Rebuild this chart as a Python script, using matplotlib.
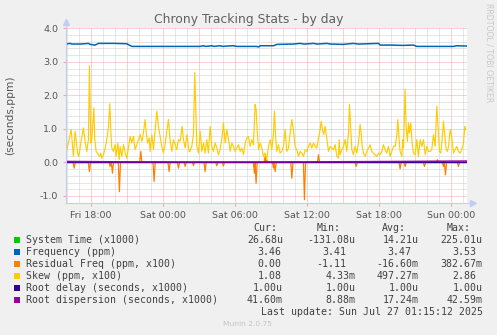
#!/usr/bin/env python3
"""
plot.py - munin style "Chrony Tracking Stats - by day" graph, redrawn with matplotlib.
Saves out.png (497x335).
"""

import numpy as np
import matplotlib
matplotlib.use("Agg")
import matplotlib.pyplot as plt
from matplotlib.patches import Rectangle

W, H = 497, 335

# time axis is hours since Fri 00:00
X_START, X_END = 15.94, 49.38
TICK_HOURS = [18, 24, 30, 36, 42, 48]
TICK_LABELS = ["Fri 18:00", "Sat 00:00", "Sat 06:00", "Sat 12:00", "Sat 18:00", "Sun 00:00"]

# Frequency (ppm)
freq_t = [15.94, 16.28, 16.45, 17.12, 17.81, 17.95, 18.37, 18.64, 20.0, 21.01, 21.42,
          27.12, 27.39, 27.6, 28.09, 28.3, 28.78, 29.0, 29.34, 29.89, 30.2, 31.84,
          31.98, 32.12, 33.23, 33.51, 34.89, 35.45, 35.8, 36.56, 36.9, 37.67, 38.0,
          39.0, 39.89, 40.3, 41.98, 42.12, 43.0, 44.0, 44.89, 45.17, 48.23, 48.51, 49.38]
freq_v = [3.53, 3.55, 3.53, 3.53, 3.55, 3.52, 3.50, 3.55, 3.55, 3.54, 3.46,
          3.46, 3.48, 3.46, 3.48, 3.46, 3.48, 3.46, 3.47, 3.48, 3.46, 3.46,
          3.44, 3.48, 3.48, 3.52, 3.53, 3.55, 3.53, 3.55, 3.53, 3.55, 3.53,
          3.52, 3.55, 3.53, 3.55, 3.50, 3.50, 3.49, 3.50, 3.46, 3.46, 3.48, 3.47]

# Skew (ppm, x100)
skew_t = [15.96, 16.37, 16.56, 16.70, 16.89, 16.98, 17.06, 17.17, 17.39, 17.53, 17.67,
          17.81, 17.89, 18.01, 18.09, 18.26, 18.34, 18.45, 18.56, 18.73, 18.84, 18.92,
          19.06, 19.20, 19.34, 19.48, 19.59, 19.67, 19.76, 19.89, 20.03, 20.12, 20.26,
          20.37, 20.45, 20.59, 20.73, 20.87, 21.01, 21.14, 21.28, 21.42, 21.56, 21.70,
          21.84, 21.98, 22.12, 22.26, 22.39, 22.53, 22.62, 22.73, 22.87, 22.95, 23.09,
          23.23, 23.37, 23.51, 23.64, 23.78, 23.92, 24.06, 24.20, 24.34, 24.48, 24.62,
          24.76, 24.89, 25.03, 25.17, 25.31, 25.45, 25.62, 25.73, 25.87, 26.01, 26.20,
          26.28, 26.42, 26.56, 26.67, 26.84,
          26.98, 27.12, 27.26, 27.39, 27.53, 27.67, 27.81, 27.95, 28.09, 28.23, 28.37,
          28.51, 28.64, 28.78, 28.92, 29.06, 29.20, 29.34, 29.48, 29.62, 29.76, 29.89,
          30.03, 30.17, 30.31, 30.45, 30.59, 30.73, 30.87, 31.01, 31.14, 31.28, 31.42,
          31.56, 31.70, 31.78, 31.87, 31.98, 32.12, 32.26, 32.39, 32.53, 32.67, 32.81,
          32.95, 33.09, 33.23, 33.31, 33.42, 33.51, 33.64, 33.78, 33.92, 34.06, 34.20,
          34.34, 34.48, 34.62, 34.76, 34.89, 35.03, 35.17, 35.31, 35.45, 35.59, 35.73,
          35.87, 36.01, 36.14, 36.28, 36.42, 36.56, 36.70, 36.84, 36.98, 37.12, 37.20,
          37.31, 37.42, 37.53, 37.67, 37.81, 37.95,
          38.09, 38.23, 38.37, 38.51, 38.64, 38.70, 38.78, 38.92, 39.06, 39.20, 39.34,
          39.48, 39.56, 39.67, 39.76, 39.89, 40.03, 40.17, 40.31, 40.45, 40.53, 40.62,
          40.73, 40.87, 41.01, 41.14, 41.28, 41.42, 41.56, 41.70, 41.84, 41.98, 42.12,
          42.26, 42.39, 42.53, 42.67, 42.81, 42.95, 43.09, 43.23, 43.37, 43.51, 43.59,
          43.70, 43.78, 43.92, 44.01, 44.06, 44.20, 44.28, 44.39, 44.48, 44.56, 44.67,
          44.78, 44.89, 45.03, 45.17, 45.31, 45.45, 45.59, 45.73, 45.87, 46.01, 46.14,
          46.28, 46.42, 46.56, 46.70, 46.84, 46.95, 47.06, 47.17, 47.28, 47.39, 47.51,
          47.62, 47.73, 47.84, 47.95, 48.09, 48.23, 48.37, 48.51, 48.64, 48.78, 48.92,
          49.06, 49.17, 49.25]
skew_v = [0.28, 0.98, 0.18, 0.93, 0.33, 0.18, 0.28, 0.58, 1.03, 0.63, 0.33,
          0.68, 2.88, 0.58, 0.68, 1.63, 0.68, 0.33, 0.28, 0.18, 0.28, 0.13,
          0.23, 0.43, 0.68, 1.08, 1.75, 0.98, 0.43, 0.33, 0.53, 0.18, 0.58,
          0.08, 0.48, 0.18, 0.53, 0.28, 0.13, 0.43, 0.78, 0.58, 0.78, 0.38,
          0.53, 0.68, 0.83, 0.63, 0.88, 1.28, 0.93, 0.58, 0.73, 0.33, 0.83,
          0.38, 0.98, 1.53, 1.08, 0.78, 0.48, 0.28, 0.53, 0.93, 1.28, 0.63,
          0.33, 0.68, 0.53, 0.38, 0.68, 0.63, 1.08, 0.68, 0.43, 0.83, 0.33,
          0.33, 0.48, 0.83, 2.68, 0.48,
          0.28, 0.93, 0.33, 0.58, 0.28, 0.68, 0.28, 1.08, 0.48, 0.33, 0.58,
          0.43, 0.23, 0.38, 0.68, 1.18, 0.58, 0.98, 0.68, 0.33, 0.58, 0.48,
          0.33, 0.43, 0.53, 0.33, 0.43, 0.23, 0.58, 0.73, 0.78, 0.48, 0.68,
          0.53, 1.73, 1.58, 0.98, 0.38, 0.58, 0.43, 0.18, 0.28, 0.08, 0.48,
          0.68, 0.38, 0.88, 1.53, 0.68, 0.33, 0.53, 0.28, 0.33, 0.48, 0.98,
          0.33, 0.43, 0.88, 1.28, 0.98, 0.48, 0.38, 0.18, 0.33, 0.28, 0.18,
          0.38, 0.33, 0.48, 0.58, 0.43, 0.58, 0.48, 0.43, 0.73, 0.98, 1.23,
          0.98, 0.83, 1.08, 0.73, 0.33, 0.48,
          0.43, 0.38, 0.53, 0.18, 0.13, 0.68, 0.23, 0.38, 0.48, 0.68, 0.33,
          0.88, 1.73, 0.98, 0.38, 0.23, 0.48, 0.28, 0.58, 1.13, 0.88, 0.48,
          0.28, 0.18, 0.33, 0.43, 0.53, 0.33, 0.28, 0.23, 0.18, 0.28, 0.23,
          0.33, 0.53, 0.38, 0.28, 0.48, 0.18, 0.33, 0.48, 0.48, 0.83, 1.28,
          0.68, 0.33, 0.18, 0.68, 0.43, 2.18, 1.08, 0.63, 1.18, 0.88, 1.18,
          0.58, 0.28, 0.23, 0.68, 0.18, 0.68, 0.48, 0.68, 0.23, 0.48, 0.33,
          0.33, 0.38, 0.83, 0.48, 1.68, 0.98, 0.33, 0.28, 0.68, 1.23, 0.78,
          0.38, 0.33, 0.53, 0.98, 0.73, 0.28, 0.38, 0.48, 0.33, 0.28, 0.38,
          0.58, 1.08, 0.98]

# Residual Freq (ppm, x100): spikes away from zero
resid_t = [16.62, 17.89, 19.62, 19.81, 20.39, 22.17, 23.28, 24.53, 25.31, 25.87, 26.56,
           27.53, 28.51, 29.06, 31.64, 31.78, 32.53, 32.67, 33.23, 33.37, 34.76, 35.81,
           36.98, 40.12, 43.78, 44.20, 45.81, 46.89, 47.39, 47.56, 48.64]
resid_v = [-0.17, -0.27, -0.12, -0.32, -0.87, 0.33, -0.57, -0.27, -0.17, -0.12, -0.09,
           -0.27, -0.10, -0.10, -0.32, -0.62, 0.18, 0.08, -0.17, -0.27, -0.47, -1.11,
           0.23, -0.12, -0.19, -0.12, -0.12, 0.08, -0.12, -0.37, -0.12]

# Root dispersion (seconds, x1000)
disp_t = [15.94, 20.0, 26.0, 32.0, 38.0, 44.0, 49.38]
disp_v = [0.030, 0.020, 0.015, 0.015, 0.020, 0.030, 0.042]

# Root delay / System time (both ~0)
delay_v = 0.000001
systime_v = 0.000014

LEGEND_NAMES = ["System Time (x1000)", "Frequency (ppm)", "Residual Freq (ppm, x100)",
                "Skew (ppm, x100)", "Root delay (seconds, x1000)",
                "Root dispersion (seconds, x1000)"]
LEGEND_COLORS = ["#00CC00", "#0066B3", "#FF8000", "#FFCC00", "#330099", "#990099"]
CUR = ["26.68u", "3.46", "0.00", "1.08", "1.00u", "41.60m"]
MIN = ["-131.08u", "3.41", "-1.11", "4.33m", "1.00u", "8.88m"]
AVG = ["14.21u", "3.47", "-16.60m", "497.27m", "1.00u", "17.24m"]
MAX = ["225.01u", "3.53", "382.67m", "2.86", "1.00u", "42.59m"]

TXT = "#555555"
MAJ = "#EFA8A8"
MIN_GRID = "#D0D0D0"
AXIS = "#C4CCF4"


def fx(px):
    return px / W


def fy(py):
    return 1 - py / H


def spike_series(t, v, half=0.09):
    xs, ys = [X_START], [0.0]
    for ti, vi in zip(t, v):
        xs += [ti - half, ti, ti + half]
        ys += [0.0, vi, 0.0]
    xs.append(X_END)
    ys.append(0.0)
    return xs, ys


def main():
    fig = plt.figure(figsize=(W / 100, H / 100), dpi=100, facecolor="#F0F0F0")
    left, right, top, bottom = 66, 467.3, 28.3, 202.7
    ax = fig.add_axes([fx(left), fy(bottom), (right - left) / W, (bottom - top) / H])
    ax.set_facecolor("white")
    ax.set_xlim(X_START, X_END)
    ax.set_ylim(-1.2, 4.0)

    # grid
    dots = (0, (1, 1))
    for h in np.arange(16, 50, 1):
        c = MAJ if h % 3 == 0 else MIN_GRID
        ax.axvline(h, color=c, lw=0.72, ls=dots, zorder=0)
    for y in np.arange(-1.2, 4.01, 0.2):
        yr = round(y, 1)
        if yr <= -1.2:
            continue
        c = MAJ if abs(yr - round(yr)) < 1e-6 else MIN_GRID
        ax.axhline(yr, color=c, lw=0.72, ls=dots, zorder=0)

    # series, munin draw order
    ax.plot([X_START, X_END], [systime_v, systime_v], color=LEGEND_COLORS[0], lw=0.8, zorder=2)
    ax.plot(freq_t, freq_v, color=LEGEND_COLORS[1], lw=1.1, zorder=3)
    rx, ry = spike_series(resid_t, resid_v)
    ax.plot(rx, ry, color=LEGEND_COLORS[2], lw=0.9, zorder=4)
    ax.plot(skew_t, skew_v, color=LEGEND_COLORS[3], lw=0.85, zorder=5)
    ax.plot([X_START, X_END], [delay_v, delay_v], color=LEGEND_COLORS[4], lw=1.0, zorder=6)
    ax.plot(disp_t, disp_v, color=LEGEND_COLORS[5], lw=1.1, zorder=7)

    for s in ax.spines.values():
        s.set_visible(False)

    # axes with arrows
    ax.plot([0, 0], [0, 1.035], transform=ax.transAxes, color=AXIS, lw=0.8, clip_on=False, zorder=8)
    ax.plot([0], [1.035], transform=ax.transAxes, marker="^", ms=4, color=AXIS, clip_on=False, zorder=8)
    ax.plot([0, 1.015], [0, 0], transform=ax.transAxes, color=AXIS, lw=0.8, clip_on=False, zorder=8)
    ax.plot([1.015], [0], transform=ax.transAxes, marker=">", ms=4, color=AXIS, clip_on=False, zorder=8)

    ax.set_xticks(TICK_HOURS)
    ax.set_xticklabels(TICK_LABELS)
    ax.set_yticks([-1, 0, 1, 2, 3, 4])
    ax.set_yticklabels(["-1.0", "0.0", "1.0", "2.0", "3.0", "4.0"])
    ax.tick_params(axis="x", length=2, color=MAJ, pad=4, labelsize=6.8, labelcolor=TXT)
    ax.tick_params(axis="y", length=2, color=MAJ, pad=3.5, labelsize=6.8, labelcolor=TXT)

    ax.set_ylabel("(seconds,ppm)", fontsize=7.7, color=TXT)
    ax.yaxis.set_label_coords(-0.127, 0.5)

    fig.text(0.5, fy(19), "Chrony Tracking Stats - by day", ha="center", va="center",
             fontsize=8.9, color="#606060")
    fig.text(fx(489), fy(53), "RRDTOOL / TOBI OETIKER", rotation=270, ha="center",
             va="center", fontsize=5.6, color="#C8C8C8")

    # legend block
    mono = dict(family="DejaVu Sans Mono", fontsize=7.1, color="#404040", va="center")
    for lbl, xl in zip(["Cur:", "Min:", "Avg:", "Max:"], [253, 317, 382, 447]):
        fig.text(fx(xl), fy(228), lbl, ha="left", **mono)

    rows_y = [239.7, 251.7, 263.7, 275.7, 287.7, 299.7]
    col_sfx = [283, 355.5, 418.5, 482.7]
    col_nosfx = [281.5, 346.7, 411.7, 476.7]
    for i, y in enumerate(rows_y):
        fig.patches.append(Rectangle((fx(14), fy(y + 3)), 6 / W, 6 / H,
                                     transform=fig.transFigure, facecolor=LEGEND_COLORS[i],
                                     edgecolor="none"))
        fig.text(fx(26), fy(y), LEGEND_NAMES[i], ha="left", **mono)
        for j, col in enumerate([CUR, MIN, AVG, MAX]):
            val = col[i]
            xr = col_nosfx[j] if val[-1].isdigit() else col_sfx[j]
            fig.text(fx(xr), fy(y), val, ha="right", **mono)

    fig.text(fx(483), fy(311.7), "Last update: Sun Jul 27 01:15:12 2025", ha="right", **mono)
    fig.text(fx(247.5), fy(324), "Munin 2.0.75", ha="center", va="center",
             fontsize=5.4, color="#C4C4C4")

    fig.savefig("out.png", dpi=100, facecolor=fig.get_facecolor())


if __name__ == "__main__":
    main()
